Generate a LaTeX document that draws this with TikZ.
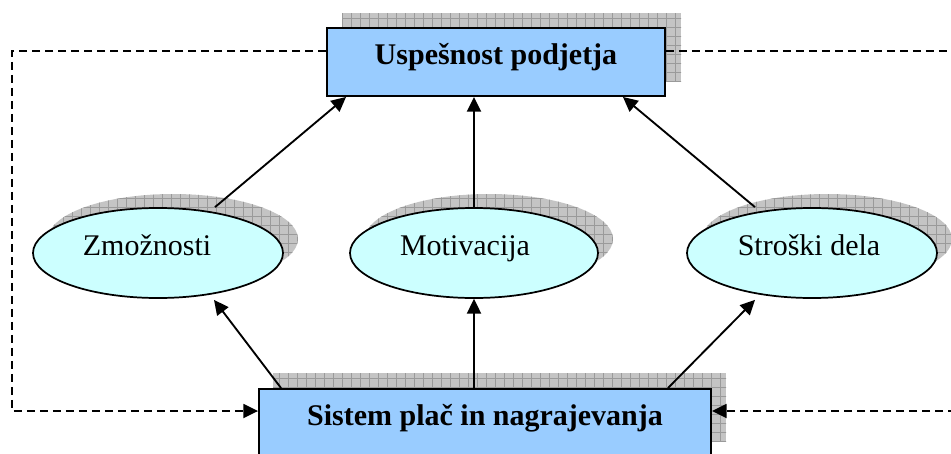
\documentclass[tikz,border=0pt]{standalone}
\usepackage{fontspec}
\setmainfont{Liberation Serif}
\usetikzlibrary{arrows.meta,calc,shapes.geometric}
\definecolor{boxblue}{HTML}{99CCFF}
\definecolor{ellcyan}{HTML}{CCFFFF}
\definecolor{shadowfill}{HTML}{C4C4C4}
\definecolor{shadowline}{HTML}{9A9A9A}
\newcommand\gridshadow[1]{%
  \fill[shadowfill] #1;
  \begin{scope}\clip #1;
    \draw[shadowline, line width=0.5pt] (0,0) grid[step=6.75pt] (951,454);
  \end{scope}}
\newcommand\padr[1]{\rule{#1}{0pt}}
\tikzset{
  boxnode/.style={draw=black, line width=1.4pt, fill=boxblue, rectangle,
    minimum height=51pt, inner sep=0pt, text height=15pt, text depth=11pt,
    font=\fontsize{22.5}{27}\selectfont\bfseries},
  ellnode/.style={draw=black, line width=1.3pt, fill=ellcyan, ellipse,
    minimum width=187.5pt, minimum height=67.5pt, inner sep=0pt,
    text height=15pt, text depth=11pt,
    font=\fontsize{22.5}{27}\selectfont},
  arr/.style={line width=1.4pt, -{Triangle[length=11pt,width=10.5pt]}},
  darr/.style={line width=1.4pt, dash pattern=on 6pt off 3.75pt,
    -{Triangle[length=11pt,width=10.5pt]}}
}
\begin{document}
\begin{tikzpicture}[x=0.75pt, y=-0.75pt]
\useasboundingbox (0,0) rectangle (951,454);
\clip (0,0) rectangle (951,454);
% shadows
\gridshadow{(342,13) rectangle (681,81)}
\gridshadow{(273,373) rectangle (726,441)}
\gridshadow{(173,239) ellipse[x radius=93.75pt, y radius=33.75pt]}
\gridshadow{(489,239) ellipse[x radius=93pt, y radius=33.75pt]}
\gridshadow{(827,239) ellipse[x radius=93.75pt, y radius=33.75pt]}
% nodes
\node[boxnode, minimum width=253.5pt] (top) at (496,62) {Uspešnost podjetja};
\node[boxnode, minimum width=339pt] (bot) at (485,423) {Sistem plač in nagrajevanja};
\node[ellnode] (z) at (158,253) {Zmožnosti\padr{16.5pt}};
\node[ellnode, minimum width=186pt] (m) at (474,253) {Motivacija\padr{13.5pt}};
\node[ellnode] (s) at (812,253) {Stroški dela\padr{4.5pt}};
% coordinates for the feedback loop
\coordinate (lt) at (12,51);
\coordinate (lb) at (12,411);
\coordinate (rt) at (956,51);
\coordinate (rb) at (956,411);
% arrows up
\draw[arr] ($(z.north)+(57,0)$) -- ($(top.south west)+(20,0)$);
\draw[arr] (m.north) -- (m.north |- top.south);
\draw[arr] ($(s.north)+(-57,0)$) -- ($(top.south east)+(-43,0)$);
\draw[arr] ($(bot.north west)+(23,0)$) -- ($(z.south)+(56,1)$);
\draw[arr] (bot.north -| m.south) -- (m.south);
\draw[arr] ($(bot.north east)+(-44,0)$) -- ($(s.south)+(-57,1)$);
% dashed feedback
\draw[darr] (top.west |- lt) -- (lt) -- (lb) -- (lb -| bot.west);
\draw[darr] (top.east |- rt) -- (rt) -- (rb) -- (rb -| bot.east);
\end{tikzpicture}
\end{document}
